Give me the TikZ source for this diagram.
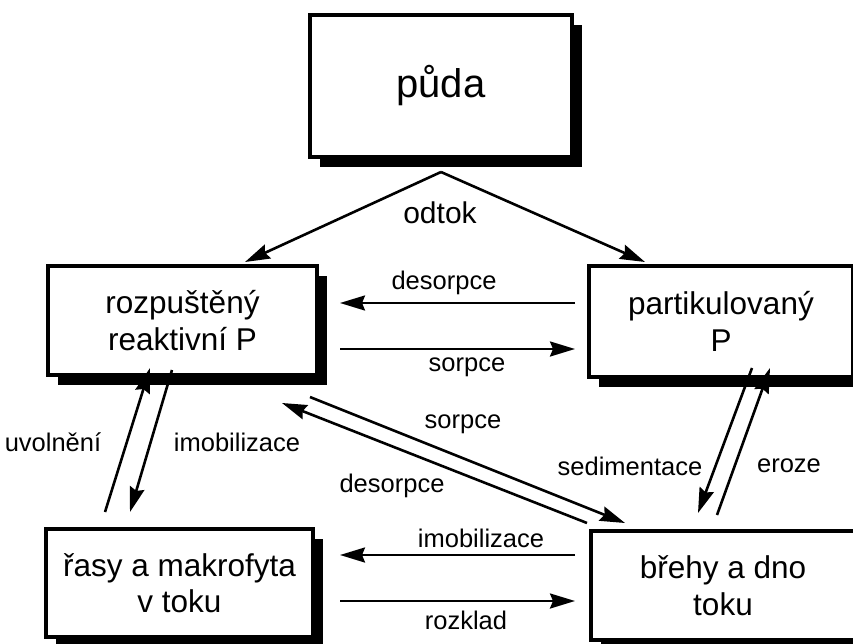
\documentclass[tikz,border=0pt]{standalone}
\usepackage{fontspec}
\setmainfont{Liberation Sans}
\usetikzlibrary{arrows.meta,shadows}

\tikzset{
  box/.style={draw,line width=3.2pt,fill=white,align=center,inner sep=0pt,
    drop shadow={shadow xshift=10pt,shadow yshift=-10pt,fill=black,opacity=1},
    font=\fontsize{31.5}{36.5}\selectfont},
  tok/.style={line width=2.6pt,-{Stealth[length=25pt,width=15pt,inset=3pt]}},
  lbl/.style={font=\fontsize{25.5}{30}\selectfont},
}

\begin{document}
\begin{tikzpicture}[x=1pt,y=-1pt]
    \useasboundingbox (0,0) rectangle (853,644);

    % boxy
    \node[box,minimum width=262pt,minimum height=142pt,font=\fontsize{40}{48}\selectfont] (puda) at (441,86) {půda};
    \node[box,minimum width=269pt,minimum height=109pt] (rozp) at (182.5,320.5) {rozpuštěný\\reaktivní P};
    \node[box,minimum width=264pt,minimum height=111pt] (part) at (721,321.5) {partikulovaný\\P};
    \node[box,minimum width=267pt,minimum height=108pt] (rasy) at (179.5,583) {řasy a makrofyta\\v toku};
    \node[box,minimum width=264pt,minimum height=109pt] (breh) at (723,585.5) {břehy a dno\\toku};

    % konce sipek
    \coordinate (O) at (441,172);
    \coordinate (L1) at (245,262);
    \coordinate (R1) at (645,262);
    \coordinate (D1) at (575,303);
    \coordinate (D2) at (340,303);
    \coordinate (S1) at (340,349);
    \coordinate (S2) at (575,349);
    \coordinate (U1) at (105,512);
    \coordinate (U2) at (150,368);
    \coordinate (I1) at (172,370);
    \coordinate (I2) at (130,512);
    \coordinate (E1) at (717,515);
    \coordinate (E2) at (770,368);
    \coordinate (M1) at (752,368);
    \coordinate (M2) at (698,513);
    \coordinate (P1) at (310,397);
    \coordinate (P2) at (625,523);
    \coordinate (Q1) at (587,523);
    \coordinate (Q2) at (282,403);
    \coordinate (B1) at (575,555);
    \coordinate (B2) at (340,555);
    \coordinate (K1) at (340,601);
    \coordinate (K2) at (575,601);

    \draw[tok] (O) -- (L1);
    \draw[tok] (O) -- (R1);
    \draw[tok] (D1) -- (D2);
    \draw[tok] (S1) -- (S2);
    \draw[tok] (U1) -- (U2);
    \draw[tok] (I1) -- (I2);
    \draw[tok] (E1) -- (E2);
    \draw[tok] (M1) -- (M2);
    \draw[tok] (P1) -- (P2);
    \draw[tok] (Q1) -- (Q2);
    \draw[tok] (B1) -- (B2);
    \draw[tok] (K1) -- (K2);

    % popisky
    \node[font=\fontsize{30}{36}\selectfont] (odtok) at (440,213) {odtok};
    \node[lbl] (des1) at (444,283) {desorpce};
    \node[lbl] (sor1) at (467,367) {sorpce};
    \node[lbl] (uvol) at (53,442) {uvolnění};
    \node[lbl] (imo1) at (237,442) {imobilizace};
    \node[lbl] (sor2) at (463,424) {sorpce};
    \node[lbl] (des2) at (392,486) {desorpce};
    \node[lbl] (sedi) at (630,466) {sedimentace};
    \node[lbl] (eroz) at (789,466) {eroze};
    \node[lbl] (imo2) at (481,538) {imobilizace};
    \node[lbl] (rozk) at (466,620) {rozklad};
\end{tikzpicture}
\end{document}
